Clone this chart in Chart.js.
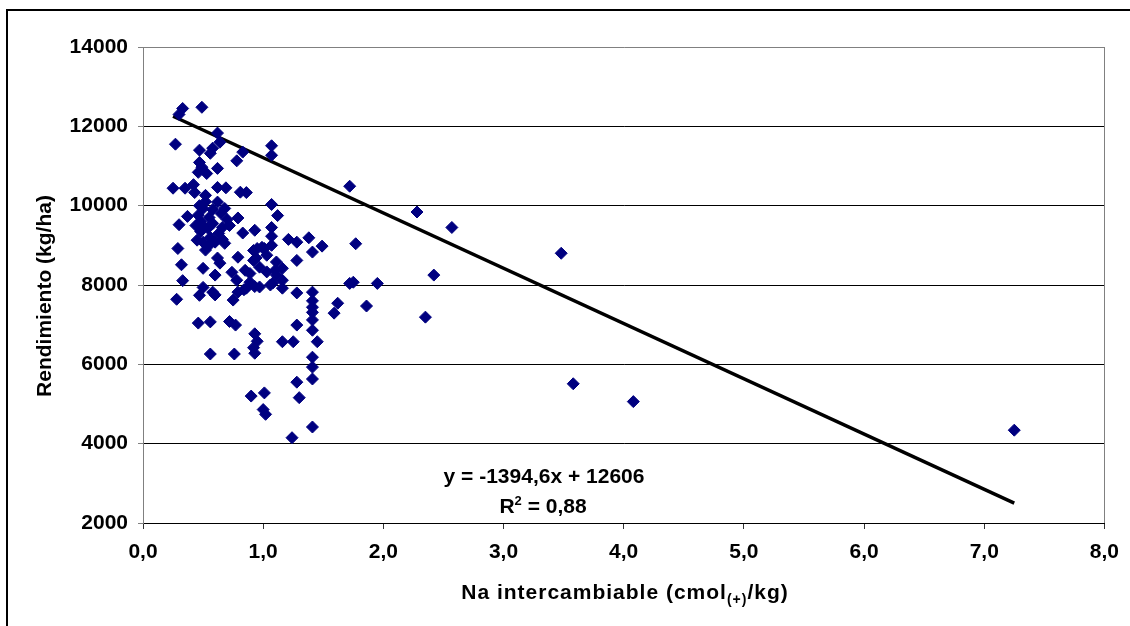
<!DOCTYPE html>
<html>
<head>
<meta charset="utf-8">
<script src="https://cdn.jsdelivr.net/npm/chart.js@4.4.1/dist/chart.umd.min.js"></script>
<style>
  html, body { margin: 0; padding: 0; background: #fff; overflow: hidden; }
  #frame { position: absolute; left: 6px; top: 9px; width: 1300px; height: 800px; border: 2px solid #000; }
  #wrap { position: absolute; left: 0; top: 0; width: 1130px; height: 626px; }
</style>
</head>
<body>
<div id="frame"></div>
<div id="wrap"><canvas id="chart" width="1130" height="626"></canvas></div>
<script>
// Na intercambiable (cmol(+)/kg) vs Rendimiento (kg/ha)
const naX = [
  0.33, 0.49, 0.30, 0.27, 0.62, 0.64, 0.47, 0.56, 0.58, 0.83,
  0.78, 1.07, 1.07, 0.47, 0.49, 0.62, 0.53, 0.46, 0.25, 0.35,
  0.42, 0.43, 0.52, 0.62, 0.69, 0.81, 0.86, 1.07, 1.72, 1.12,
  0.37, 0.30, 0.46, 0.50, 0.62, 0.68, 0.79, 0.72, 0.93, 0.83,
  0.54, 0.45, 0.50, 0.60, 0.68, 0.29, 0.52, 0.62, 0.32, 0.50,
  0.60, 0.33, 0.79, 0.74, 0.89, 0.78, 0.95, 1.01, 1.07, 1.11,
  0.94, 0.97, 1.03, 1.11, 0.89, 0.86, 0.97, 1.06, 1.16, 0.50,
  0.58, 0.28, 0.47, 0.60, 0.75, 0.79, 0.84, 0.93, 1.08, 0.46,
  0.56, 0.72, 0.77, 0.93, 0.95, 0.92, 0.93, 1.16, 0.56, 0.76,
  0.90, 1.01, 1.00, 1.02, 1.28, 1.30, 1.24, 1.41, 1.21, 1.28,
  1.38, 1.49, 1.41, 1.28, 1.77, 2.28, 2.42, 1.16, 1.16, 1.72,
  1.75, 1.95, 1.28, 1.41, 1.41, 1.41, 1.41, 1.41, 1.41, 1.62,
  1.59, 1.86, 2.35, 1.28, 1.25, 1.45, 1.41, 1.41, 1.41, 2.57,
  3.48, 3.58, 4.08, 7.25, 0.48, 0.55, 0.58, 0.65, 0.70, 0.56,
  0.63, 0.66, 0.58, 0.48, 0.52, 0.55, 0.47, 0.64, 0.50, 0.99,
  1.03, 0.92, 0.92, 0.85, 1.10, 0.66, 0.44, 1.07, 1.07
];
const rendY = [
  12450, 12480, 12300, 11550, 11830, 11600, 11400, 11320, 11450, 11350,
  11130, 11510, 11270, 11090, 10970, 10940, 10810, 10840, 10440, 10440,
  10530, 10330, 10260, 10460, 10450, 10340, 10330, 10030, 10490, 9750,
  9730, 9520, 9760, 9930, 10090, 9930, 9690, 9500, 9380, 9310,
  9430, 9130, 9080, 9080, 9050, 8920, 8880, 8680, 8510, 8420,
  8250, 8110, 8700, 8320, 8290, 8120, 8920, 8920, 9000, 8580,
  8680, 8450, 8330, 8250, 8070, 7920, 7950, 8000, 7920, 7940,
  7820, 7640, 7740, 7750, 7620, 7820, 7880, 7960, 8050, 7040,
  7070, 7080, 6990, 6770, 6580, 6420, 6280, 6570, 6260, 6260,
  5200, 5280, 4860, 4740, 5550, 5160, 4150, 4420, 9150, 9080,
  9190, 8980, 8830, 8620, 9040, 9840, 8250, 8420, 8120, 8040,
  8070, 8040, 7800, 7820, 7600, 7440, 7310, 7120, 6860, 7540,
  7290, 7470, 7190, 6990, 6570, 6570, 6180, 5930, 5630, 9450,
  8800, 5510, 5060, 4340, 9600, 9700, 9900, 9800, 9650, 9200,
  9300, 9450, 9550, 9350, 10100, 9000, 10000, 8550, 9500, 8950,
  8750, 8870, 8620, 8370, 8370, 9150, 9500, 9450, 9230
];

// linear trend line ends, as drawn
const trendX = [0.25, 7.25];
const trendY = [12255, 2500];

const yTicks = [2000, 4000, 6000, 8000, 10000, 12000, 14000];
const eqText = "y = -1394,6x + 12606";
const r2Parts = ["R", "2", " = 0,88"];
const yTitle = "Rendimiento (kg/ha)";
const xTitleParts = ["Na intercambiable (cmol", "(+)", "/kg)"];

const FONT = "'Liberation Sans', Arial, sans-serif";

// draw a row of [text, font, dy] pieces centred on cx
function drawPieces(ctx, pieces, cx, base, spacing) {
  ctx.letterSpacing = spacing;
  const widths = pieces.map(([t, f]) => { ctx.font = f; return ctx.measureText(t).width; });
  let x = cx - widths.reduce((a, b) => a + b, 0) / 2;
  pieces.forEach(([t, f, dy], i) => {
    ctx.font = f;
    ctx.fillText(t, x, base + dy);
    x += widths[i];
  });
  ctx.letterSpacing = "0px";
}

const textPlugin = {
  id: "texts",
  afterDraw(chart) {
    const { ctx, chartArea } = chart;
    ctx.save();
    // right side of the plot frame
    ctx.strokeStyle = "#808080";
    ctx.lineWidth = 1;
    ctx.beginPath();
    ctx.moveTo(Math.round(chartArea.right) + 0.5, chartArea.top);
    ctx.lineTo(Math.round(chartArea.right) + 0.5, chartArea.bottom);
    ctx.stroke();

    const big = `bold 21px ${FONT}`;
    ctx.fillStyle = "#000";
    ctx.textAlign = "left";
    ctx.textBaseline = "alphabetic";

    drawPieces(ctx, [[eqText, big, 0]], 544, 483, "0px");
    drawPieces(ctx, [
      [r2Parts[0], big, 0],
      [r2Parts[1], `bold 13px ${FONT}`, -8],
      [r2Parts[2], big, 0],
    ], 543, 513, "0px");

    // x title with subscript
    drawPieces(ctx, [
      [xTitleParts[0], big, 0],
      [xTitleParts[1], `bold 14px ${FONT}`, 5],
      [xTitleParts[2], big, 0],
    ], 625, 599, "1px");

    // y title
    ctx.save();
    ctx.translate(45, 296);
    ctx.rotate(-Math.PI / 2);
    ctx.textAlign = "center";
    ctx.textBaseline = "middle";
    ctx.font = big;
    ctx.fillText(yTitle, 0, 0);
    ctx.restore();

    ctx.restore();
  }
};

const ctx = document.getElementById("chart").getContext("2d");
new Chart(ctx, {
  type: "scatter",
  data: {
    datasets: [
      {
        label: "Rendimiento",
        data: naX.map((v, i) => ({ x: v, y: rendY[i] })),
        pointStyle: "rectRot",
        pointRadius: 6,
        backgroundColor: "#000080",
        borderColor: "#000080",
        borderWidth: 1,
      },
      {
        type: "line",
        label: "Lineal",
        data: trendX.map((v, i) => ({ x: v, y: trendY[i] })),
        borderColor: "#000",
        borderWidth: 3.5,
        pointRadius: 0,
        fill: false,
      },
    ],
  },
  options: {
    responsive: false,
    animation: false,
    layout: { padding: { left: 0, top: 47, right: 25, bottom: 0 } },
    plugins: {
      legend: { display: false },
      tooltip: { enabled: false },
    },
    scales: {
      x: {
        type: "linear",
        min: 0,
        max: 8,
        afterBuildTicks: (scale) => {
          scale.ticks = [0, 1, 2, 3, 4, 5, 6, 7, 8].map((v) => ({ value: v }));
        },
        afterFit: (scale) => { scale.height = 103; },
        grid: {
          drawOnChartArea: false,
          drawTicks: true,
          tickLength: 6,
          tickColor: "#333",
        },
        border: { color: "#000", width: 1 },
        ticks: {
          color: "#000",
          font: { family: FONT, size: 21, weight: "bold" },
          padding: 11,
          maxRotation: 0,
          callback: (v) => Number(v).toFixed(1).replace(".", ","),
        },
      },
      y: {
        type: "linear",
        min: 2000,
        max: 14000,
        afterBuildTicks: (scale) => {
          scale.ticks = yTicks.map((v) => ({ value: v }));
        },
        afterFit: (scale) => { scale.width = 143; },
        grid: {
          color: (c) => (c.tick && c.tick.value === 14000 ? "#808080" : "#000"),
          tickLength: 5,
          tickColor: "#808080",
        },
        border: { color: "#808080", width: 1 },
        ticks: {
          color: "#000",
          font: { family: FONT, size: 21, weight: "bold" },
          padding: 10,
          callback: (v) => String(v),
        },
      },
    },
  },
  plugins: [textPlugin],
});
</script>
</body>
</html>
